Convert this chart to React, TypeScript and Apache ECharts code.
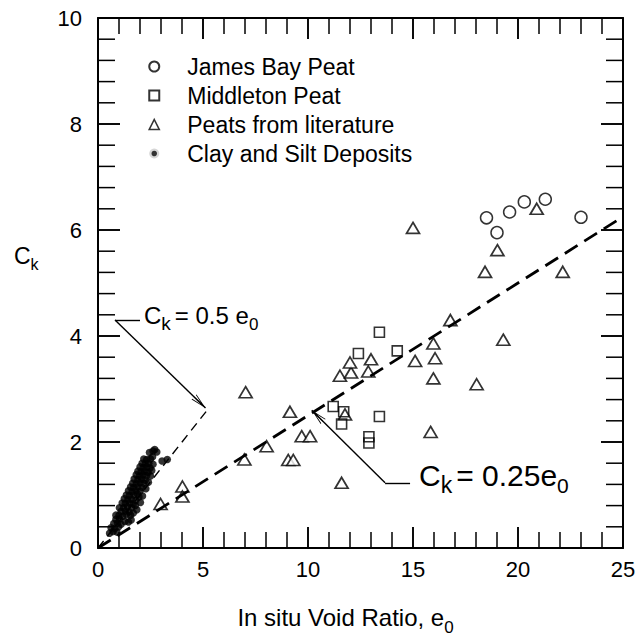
import React, { useEffect, useRef } from 'react';
import * as echarts from 'echarts';

const FONT = '"Liberation Sans", Arial, Helvetica, sans-serif';

const xRange = [0, 25];
const xMajor = 5;
const yRange = [0, 10];
const yMajor = 2;

// Tick positions (drawn inside on all four sides)
const xMajorTicks = [0, 5, 10, 15, 20, 25];
const xMinorTicks = [1, 2, 3, 4, 6, 7, 8, 9, 11, 12, 13, 14, 16, 17, 18, 19, 21, 22, 23, 24];
const yMajorTicks = [0, 2, 4, 6, 8, 10];
const yMinorTicks = [0.4, 0.8, 1.2, 1.6, 2.4, 2.8, 3.2, 3.6, 4.4, 4.8, 5.2, 5.6, 6.4, 6.8, 7.2, 7.6, 8.4, 8.8, 9.2, 9.6];

const jamesBayPeat = [
  [18.5, 6.23], [19.0, 5.95], [19.6, 6.34], [20.3, 6.53], [21.3, 6.58], [23.0, 6.24],
];

const middletonPeat = [
  [11.2, 2.67], [11.7, 2.57], [11.6, 2.34], [13.4, 2.48], [12.9, 2.1], [12.9, 1.98],
  [13.4, 4.07], [12.4, 3.67], [14.25, 3.72],
];

const peatsLiterature = [
  [2.98, 0.83], [4.02, 1.16], [4.02, 0.97], [6.97, 1.67], [7.03, 2.94], [8.03, 1.92],
  [9.06, 1.66], [9.3, 1.66], [9.14, 2.57], [9.7, 2.11], [10.1, 2.11], [11.6, 1.23],
  [11.76, 2.52], [11.52, 3.25], [12.05, 3.31], [12.0, 3.5], [12.87, 3.33], [13.0, 3.56],
  [15.1, 3.53], [15.97, 3.86], [16.05, 3.58], [15.97, 3.2], [15.84, 2.19], [16.78, 4.3],
  [18.03, 3.09], [19.3, 3.93], [18.43, 5.21], [19.02, 5.62], [20.89, 6.4], [22.13, 5.21],
  [15.0, 6.04],
];

const claySilt = [
  [0.55, 0.28], [0.72, 0.31], [0.9, 0.3], [0.62, 0.38], [0.8, 0.37], [0.98, 0.4],
  [0.75, 0.46], [0.93, 0.47], [1.1, 0.45], [1.28, 0.5], [1.45, 0.49], [1.58, 0.53], [0.85, 0.54], [1.02, 0.55],
  [1.0, 0.62], [1.18, 0.6], [1.35, 0.63], [1.55, 0.62], [1.68, 0.66], [1.1, 0.69], [1.3, 0.7], [1.48, 0.68],
  [1.22, 0.76], [1.4, 0.78], [1.6, 0.76], [1.78, 0.8], [1.3, 0.84], [1.5, 0.85], [1.68, 0.83],
  [1.42, 0.91], [1.6, 0.92], [1.8, 0.9], [1.95, 0.96], [1.5, 0.99], [1.7, 1.0], [1.88, 1.02],
  [1.62, 1.06], [1.8, 1.08], [2.0, 1.07], [2.1, 1.14], [1.7, 1.14], [1.9, 1.15],
  [1.82, 1.21], [2.0, 1.23], [2.18, 1.22], [1.9, 1.29], [2.08, 1.3], [2.25, 1.28],
  [1.98, 1.36], [2.15, 1.38], [2.32, 1.37], [2.05, 1.44], [2.22, 1.45], [2.38, 1.43],
  [2.15, 1.52], [2.32, 1.53], [2.48, 1.51], [2.25, 1.59], [2.42, 1.6],
  [2.32, 1.67], [2.5, 1.68], [2.6, 1.72], [3.05, 1.64], [3.3, 1.67],
  [2.45, 1.8], [2.62, 1.83], [2.8, 1.81], [2.7, 1.86],
  [0.85, 0.62], [1.02, 0.76], [1.15, 0.85], [1.25, 0.93], [1.35, 1.0], [1.45, 1.08],
  [1.55, 1.15], [1.65, 1.22], [1.72, 1.3], [1.82, 1.38], [1.9, 1.45], [2.0, 1.53],
  [2.1, 1.6], [2.18, 1.68], [1.85, 0.72], [2.02, 0.86], [2.12, 0.98], [2.28, 1.12],
  [2.4, 1.24], [2.5, 1.36], [2.56, 1.46], [2.62, 1.58],
];

const line025 = [[0, 0], [25, 6.25]];
const line05 = [[0, 0], [5.2, 2.6]];

const leader05 = [[2.0, 4.3], [0.81, 4.3], [5.12, 2.64]];
const leader025 = [[14.86, 1.23], [13.67, 1.23], [10.18, 2.6]];

const ARROW = 'path://M5,0 L10,20 L8.8,20 L5,4.8 L1.2,20 L0,20 Z M4.4,3 L5.6,3 L5.6,20 L4.4,20 Z';

const GRID = { left: 98, right: 18, top: 18, bottom: 89 };
const W = 641;
const H = 637;
const plotW = W - GRID.left - GRID.right;
const plotH = H - GRID.top - GRID.bottom;
const pxPerX = plotW / (xRange[1] - xRange[0]);
const pxPerY = plotH / (yRange[1] - yRange[0]);

function leaderLines(pts: number[][]) {
  return [
    [{ coord: pts[0], symbol: 'none' }, { coord: pts[1], symbol: 'none' }],
    [{ coord: pts[1], symbol: 'none' }, { coord: pts[2], symbol: ARROW, symbolSize: [7, 16], symbolOffset: [0, 8] }],
  ];
}

// Inside ticks on all four sides as thin filled rects (frame decoration)
function tickRects() {
  const out: any[] = [];
  const rect = (x: number, y: number, w: number, h: number) => out.push({
    type: 'rect', silent: true, z: 50,
    shape: { x, y, width: w, height: h },
    style: { fill: '#000' },
  });
  const xt = (v: number, major: boolean) => {
    const len = major ? 21 : 16;
    const w = major ? 1.9 : 1.5;
    const px = GRID.left + (v - xRange[0]) * pxPerX - w / 2;
    rect(px, GRID.top + plotH - len, w, len);
    rect(px, GRID.top, w, len);
  };
  const yt = (v: number, major: boolean) => {
    const len = major ? 22 : 17;
    const w = major ? 1.9 : 1.5;
    const py = GRID.top + plotH - (v - yRange[0]) * pxPerY - w / 2;
    rect(GRID.left, py, len, w);
    rect(GRID.left + plotW - len, py, len, w);
  };
  xMajorTicks.forEach((v) => xt(v, true));
  xMinorTicks.forEach((v) => xt(v, false));
  yMajorTicks.forEach((v) => yt(v, true));
  yMinorTicks.forEach((v) => yt(v, false));
  return out;
}

function makeRich(main: number, sub: number, sub2: number) {
  const base = { verticalAlign: 'bottom', fontFamily: FONT, color: '#000' };
  return {
    m: { ...base, fontSize: main, lineHeight: main + 2, padding: [0, 0, 6, 0] },
    s: { ...base, fontSize: sub, lineHeight: sub },
    e: { ...base, fontSize: main, lineHeight: main + 2, padding: [0, 0, 6, 4] },
    z: { ...base, fontSize: sub2, lineHeight: sub2 },
  };
}

export default function App() {
  const ref = useRef<HTMLDivElement>(null);
  useEffect(() => {
    if (!ref.current) return;
    const chart = echarts.init(ref.current, undefined, { renderer: 'svg' });
    const axisLine = { show: true, onZero: false, lineStyle: { color: '#000', width: 2 } };
    const labelStyle = { color: '#000', fontSize: 22, fontFamily: FONT };

    const option: any = {
      animation: false,
      backgroundColor: '#fff',
      grid: { ...GRID, containLabel: false, outerBoundsMode: 'none' },
      xAxis: [
        {
          type: 'value', position: 'bottom', min: xRange[0], max: xRange[1], interval: xMajor,
          axisLine, splitLine: { show: false }, axisTick: { show: false },
          axisLabel: { ...labelStyle, margin: 10 },
          name: '{a|In situ Void Ratio, e}{s|0}',
          nameLocation: 'middle', nameGap: 63,
          nameTextStyle: {
            padding: [0, 30, 0, 0],
            rich: {
              a: { fontSize: 24, lineHeight: 25, padding: [0, 0, 7, 0], verticalAlign: 'bottom', fontFamily: FONT, color: '#000' },
              s: { fontSize: 17, lineHeight: 17, verticalAlign: 'bottom', fontFamily: FONT, color: '#000' },
            },
          },
        },
        {
          type: 'value', position: 'top', min: xRange[0], max: xRange[1], interval: xMajor,
          axisLine, splitLine: { show: false }, axisTick: { show: false },
          axisLabel: { show: false },
        },
      ],
      yAxis: [
        {
          type: 'value', position: 'left', min: yRange[0], max: yRange[1], interval: yMajor,
          axisLine, splitLine: { show: false }, axisTick: { show: false },
          axisLabel: { ...labelStyle, margin: 16 },
        },
        {
          type: 'value', position: 'right', min: yRange[0], max: yRange[1], interval: yMajor,
          axisLine, splitLine: { show: false }, axisTick: { show: false },
          axisLabel: { show: false },
        },
      ],
      legend: {
        orient: 'vertical', left: 142, top: 50, itemWidth: 10, itemHeight: 10, itemGap: 6,
        selectedMode: false,
        textStyle: { fontSize: 23, fontFamily: FONT, color: '#000', padding: [0, 0, 0, 23] },
        data: [
          { name: 'James Bay Peat' },
          { name: 'Middleton Peat' },
          { name: 'Peats from literature', itemStyle: { borderWidth: 1.6 } },
          { name: 'Clay and Silt Deposits', itemStyle: { borderColor: '#fff', borderWidth: 4.5 } },
        ],
      },
      series: [
        {
          name: 'Ck = 0.25 e0', type: 'line', data: line025, symbol: 'none', silent: true,
          lineStyle: { color: '#000', width: 2.8, type: [15, 8] },
          markLine: {
            silent: true, animation: false, label: { show: false }, symbol: 'none',
            lineStyle: { color: '#000', width: 1.4, type: 'solid' },
            data: leaderLines(leader025),
          },
        },
        {
          name: 'Ck = 0.5 e0', type: 'line', data: line05, symbol: 'none', silent: true,
          lineStyle: { color: '#000', width: 1.4, type: [9, 6] },
          markLine: {
            silent: true, animation: false, label: { show: false }, symbol: 'none',
            lineStyle: { color: '#000', width: 1.4, type: 'solid' },
            data: leaderLines(leader05),
          },
        },
        {
          name: 'Clay and Silt Deposits', type: 'scatter', data: claySilt, symbol: 'circle', symbolSize: 7.5,
          itemStyle: { color: '#000' },
        },
        {
          name: 'Peats from literature', type: 'scatter', data: peatsLiterature, symbol: 'triangle',
          symbolSize: [13, 11],
          itemStyle: { color: '#fff', borderColor: '#000', borderWidth: 1.7 },
        },
        {
          name: 'Middleton Peat', type: 'scatter', data: middletonPeat, symbol: 'rect', symbolSize: 10,
          itemStyle: { color: 'rgba(255,255,255,0)', borderColor: '#000', borderWidth: 1.6 },
        },
        {
          name: 'James Bay Peat', type: 'scatter', data: jamesBayPeat, symbol: 'circle', symbolSize: 12,
          itemStyle: { color: 'rgba(255,255,255,0)', borderColor: '#000', borderWidth: 1.5 },
        },
      ],
      graphic: [
        ...tickRects(),
        {
          type: 'text', left: 14, top: 244,
          style: { text: '{m|C}{s|k}', rich: {
            m: { fontSize: 23, lineHeight: 24, padding: [0, 0, 5, 0], verticalAlign: 'bottom', fontFamily: FONT, color: '#000' },
            s: { fontSize: 16, lineHeight: 16, verticalAlign: 'bottom', fontFamily: FONT, color: '#000' },
          } },
        },
        {
          type: 'text', left: 144, top: 303,
          style: { text: '{m|C}{s|k}{e|= 0.5 e}{z|0}', rich: makeRich(24, 19, 17) },
        },
        {
          type: 'text', left: 419, top: 460,
          style: { text: '{m|C}{s|k}{e|= 0.25e}{z|0}', rich: makeRich(30, 23, 21) },
        },
      ],
    };
    chart.setOption(option);
    return () => chart.dispose();
  }, []);
  return <div ref={ref} style={{ position: 'fixed', left: 0, top: 0, width: W, height: H }} />;
}
